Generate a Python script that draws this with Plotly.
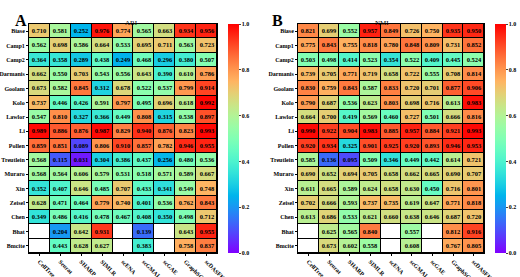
import numpy as np
import plotly.graph_objects as go

methods = ["CellTree", "Seurat", "SHARP", "SIMLR", "scENA", "scGMAI", "scGAE", "GraphSCC", "scDASFK"]
datasets = ["Biase", "Camp1", "Camp2", "Darmanis", "Goolam", "Kolo", "Lawlor", "Li", "Pollen",
            "Treutlein", "Muraro", "Xin", "Zeisel", "Chen", "Bhat", "Bmcite"]
N = None
ari = [
    [0.710, 0.581, 0.252, 0.976, 0.774, 0.565, 0.663, 0.934, 0.956],
    [0.562, 0.698, 0.586, 0.664, 0.533, 0.695, 0.711, 0.563, 0.723],
    [0.364, 0.358, 0.289, 0.438, 0.249, 0.468, 0.296, 0.380, 0.507],
    [0.662, 0.550, 0.703, 0.543, 0.556, 0.643, 0.390, 0.610, 0.786],
    [0.673, 0.582, 0.845, 0.312, 0.678, 0.522, 0.537, 0.799, 0.914],
    [0.737, 0.446, 0.426, 0.591, 0.797, 0.495, 0.696, 0.618, 0.992],
    [0.547, 0.810, 0.327, 0.366, 0.449, 0.808, 0.315, 0.538, 0.897],
    [0.989, 0.886, 0.876, 0.987, 0.829, 0.940, 0.876, 0.823, 0.993],
    [0.859, 0.851, 0.089, 0.806, 0.910, 0.857, 0.782, 0.946, 0.955],
    [0.568, 0.115, 0.031, 0.304, 0.386, 0.437, 0.256, 0.480, 0.536],
    [0.568, 0.564, 0.606, 0.579, 0.531, 0.518, 0.571, 0.589, 0.667],
    [0.352, 0.407, 0.646, 0.485, 0.707, 0.433, 0.341, 0.549, 0.748],
    [0.628, 0.471, 0.464, 0.779, 0.740, 0.401, 0.536, 0.762, 0.843],
    [0.349, 0.486, 0.416, 0.478, 0.467, 0.408, 0.350, 0.498, 0.712],
    [N, 0.204, 0.642, 0.931, N, 0.139, N, 0.643, 0.955],
    [N, 0.443, 0.628, 0.627, N, 0.383, N, 0.758, 0.837],
]
nmi = [
    [0.821, 0.699, 0.552, 0.957, 0.849, 0.726, 0.750, 0.935, 0.950],
    [0.775, 0.843, 0.755, 0.818, 0.780, 0.848, 0.809, 0.731, 0.852],
    [0.503, 0.498, 0.414, 0.523, 0.354, 0.522, 0.409, 0.445, 0.524],
    [0.739, 0.705, 0.771, 0.719, 0.658, 0.722, 0.555, 0.708, 0.814],
    [0.830, 0.759, 0.843, 0.587, 0.833, 0.720, 0.701, 0.877, 0.906],
    [0.790, 0.687, 0.536, 0.623, 0.803, 0.698, 0.716, 0.613, 0.983],
    [0.664, 0.700, 0.419, 0.569, 0.460, 0.727, 0.501, 0.666, 0.816],
    [0.990, 0.922, 0.904, 0.983, 0.885, 0.957, 0.884, 0.921, 0.993],
    [0.920, 0.934, 0.325, 0.901, 0.925, 0.920, 0.893, 0.946, 0.953],
    [0.585, 0.136, 0.095, 0.509, 0.346, 0.449, 0.442, 0.614, 0.721],
    [0.690, 0.652, 0.694, 0.705, 0.658, 0.662, 0.665, 0.690, 0.707],
    [0.611, 0.665, 0.589, 0.624, 0.658, 0.630, 0.450, 0.716, 0.801],
    [0.702, 0.666, 0.593, 0.737, 0.735, 0.619, 0.647, 0.771, 0.818],
    [0.613, 0.686, 0.533, 0.621, 0.660, 0.638, 0.646, 0.687, 0.720],
    [N, 0.625, 0.565, 0.840, N, 0.557, N, 0.812, 0.916],
    [N, 0.673, 0.602, 0.558, N, 0.608, N, 0.767, 0.805],
]

# matplotlib-like "rainbow" colormap
def rainbow(t):
    r = min(1.0, abs(2 * t - 0.5))
    g = np.sin(np.pi * t)
    b = np.cos(np.pi * t / 2)
    return "rgb(%d,%d,%d)" % (round(r * 255), round(g * 255), round(max(b, 0) * 255))

cscale = [[t, rainbow(t)] for t in np.linspace(0, 1, 21)]

FONT = "Liberation Serif"
fig = go.Figure()

W, H = 520, 277
panels = [
    dict(z=ari, xa="x", ya="y", dom=(29, 217), cbx=228, title="ARI", letter="A", lx=13),
    dict(z=nmi, xa="x2", ya="y2", dom=(298, 484), cbx=495, title="NMI", letter="B", lx=277),
]
ytop, ybot = 24, 253
ydom = [1 - ybot / H, 1 - ytop / H]

for i, p in enumerate(panels):
    z = [[np.nan if v is None else v for v in row] for row in p["z"]]
    text = [["" if v is None else "%.3f" % v for v in row] for row in p["z"]]
    blank = [[1 if v is None else np.nan for v in row] for row in p["z"]]
    fig.add_trace(go.Heatmap(
        z=blank, x=methods, y=datasets, xaxis=p["xa"], yaxis=p["ya"],
        colorscale=[[0, "white"], [1, "white"]], showscale=False, xgap=1, ygap=1,
        hoverinfo="skip"))
    fig.add_trace(go.Heatmap(
        z=z, x=methods, y=datasets, xaxis=p["xa"], yaxis=p["ya"],
        colorscale=cscale, zmin=0, zmax=1, xgap=1, ygap=1,
        text=text, texttemplate="%{text}",
        textfont=dict(family=FONT, size=6.5, color="black", weight="bold"),
        colorbar=dict(x=p["cbx"] / W, xanchor="left", thickness=11, len=(ybot - ytop) / H,
                      lenmode="fraction", y=sum(ydom) / 2, yanchor="middle",
                      xpad=0, ypad=0,
                      outlinewidth=0, tickvals=[0, 0.2, 0.4, 0.6, 0.8, 1.0],
                      tickformat=".1f", ticks="outside", ticklen=2,
                      tickfont=dict(family=FONT, size=6, color="black", weight="bold"))))
    ax = dict(domain=[p["dom"][0] / W, p["dom"][1] / W], showline=True, mirror=True,
              linecolor="black", linewidth=1, ticks="outside", ticklen=2, tickcolor="black",
              tickangle=45, automargin=False, showgrid=False,
              tickfont=dict(family=FONT, size=6, color="black", weight="bold"))
    ay = dict(domain=ydom, showline=True, mirror=True, linecolor="black", linewidth=1,
              ticks="outside", ticklen=2, tickcolor="black", autorange="reversed",
              automargin=False, showgrid=False, anchor=p["xa"],
              tickfont=dict(family=FONT, size=6, color="black", weight="bold"))
    ax["anchor"] = p["ya"]
    sfx = "" if i == 0 else "2"
    fig.update_layout(**{"xaxis" + sfx: ax, "yaxis" + sfx: ay})
    fig.add_annotation(x=sum(p["dom"]) / 2 / W, y=1 - 17 / H, xref="paper", yref="paper",
                       text=p["title"], showarrow=False,
                       font=dict(family=FONT, size=7, color="black"))
    fig.add_annotation(x=p["lx"] / W, y=1 - 10 / H, xref="paper", yref="paper",
                       text=p["letter"], showarrow=False,
                       font=dict(family=FONT, size=16, color="black", weight="bold"))

fig.update_layout(width=W, height=H, margin=dict(l=0, r=0, t=0, b=0, autoexpand=False),
                  plot_bgcolor="black", paper_bgcolor="white", showlegend=False)
fig.write_html("out.html", config={"displayModeBar": False},
               post_script="document.body.style.margin='0';")
